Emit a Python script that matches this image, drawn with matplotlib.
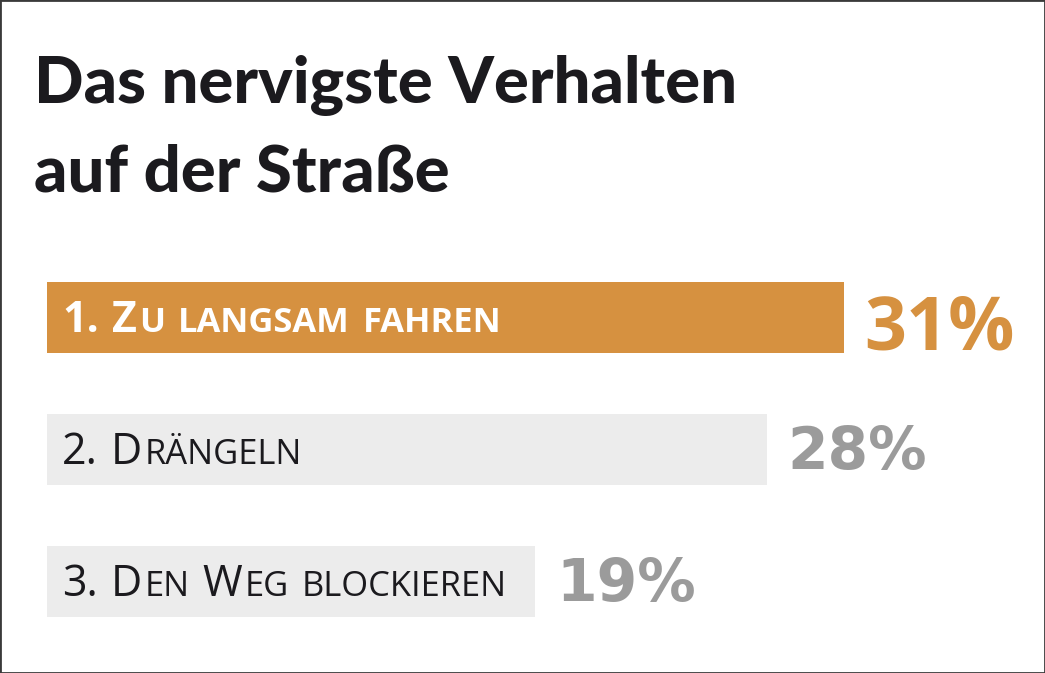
import matplotlib
matplotlib.use("Agg")
import matplotlib.pyplot as plt
from matplotlib.patches import Rectangle
from matplotlib.transforms import offset_copy

# data
categories = ["1. Zu langsam fahren", "2. Drängeln", "3. Den Weg blockieren"]
values = [31, 28, 19]
value_labels = ["31%", "28%", "19%"]
title_lines = ["Das nervigste Verhalten", "auf der Straße"]

ORANGE = "#D69140"
BAR_GRAY = "#ECECEC"
VAL_GRAY = "#9B9B9B"
DARK = "#1B1A1E"

W, H = 1045, 673
fig = plt.figure(figsize=(W / 100, H / 100), dpi=100)
fig.patch.set_facecolor("white")
ax = fig.add_axes([0, 0, 1, 1])

px = 25.7          # pixels per percent
left_px = 47
row_px = 132
first_px = 317.5
ax.set_xlim(-left_px / px, (W - left_px) / px)
ax.set_ylim((H - first_px) / row_px, -first_px / row_px)
ax.axis("off")

pos = list(range(len(values)))
bar_colors = [ORANGE] + [BAR_GRAY] * (len(values) - 1)
ax.barh(pos, values, height=71 / row_px, color=bar_colors, left=0)

renderer = fig.canvas.get_renderer()


def text_width(s, **kw):
    t = ax.text(0, 0, s, **kw)
    w = t.get_window_extent(renderer).width
    t.remove()
    return w


def smallcaps(x, y, s, size, color, weight, family, dx=0, ratio=0.8, gap=2.0):
    # fake small caps: lowercase letters drawn as smaller capitals
    off = dx
    for wi, word in enumerate(s.split(" ")):
        if wi > 0:
            kw = dict(fontsize=size, fontweight=weight, family=family)
            off += text_width("I I", **kw) - text_width("II", **kw)
        runs = []
        for ch in word:
            low = ch.islower()
            if runs and runs[-1][1] == low:
                runs[-1][0] += ch
            else:
                runs.append([ch, low])
        for chunk, low in runs:
            fs = size * ratio if low else size
            tr = offset_copy(ax.transData, fig=fig, x=off, y=0, units="dots")
            t = ax.text(x, y, chunk.upper(), transform=tr, fontsize=fs,
                        fontweight=weight, family=family, color=color,
                        va="baseline", ha="left")
            off += t.get_window_extent(renderer).width + gap


label_family = ["Open Sans", "DejaVu Sans"]
for i, lab in enumerate(categories):
    if i == 0:
        smallcaps(0, i + 14.5 / row_px, lab, 31, "white", "bold", label_family, dx=15)
    else:
        smallcaps(0, i + 14 / row_px, lab, 31, DARK, "normal", label_family, dx=15)

for i, (v, lab) in enumerate(zip(values, value_labels)):
    if i == 0:
        size, color, fam, dy = 53, ORANGE, label_family, 32
    else:
        size, color, fam, dy = 42, VAL_GRAY, ["DejaVu Sans"], 19
    tr = offset_copy(ax.transData, fig=fig, x=21, y=0, units="dots")
    ax.text(v, i + dy / row_px, lab, transform=tr, fontsize=size, fontweight="bold",
            family=fam, color=color, va="baseline", ha="left")

title_family = ["Lato", "DejaVu Sans"]
fig.text(34 / W, 1 - 103 / H, title_lines[0], fontsize=47, fontweight="black",
         family=title_family, color=DARK, va="baseline", ha="left")
fig.text(34 / W, 1 - 192 / H, title_lines[1], fontsize=47, fontweight="black",
         family=title_family, color=DARK, va="baseline", ha="left")

fig.add_artist(Rectangle((0, 0), 1, 1, transform=fig.transFigure, fill=False,
                         edgecolor="#3a3a3a", linewidth=2))

fig.savefig("out.png", dpi=100)
